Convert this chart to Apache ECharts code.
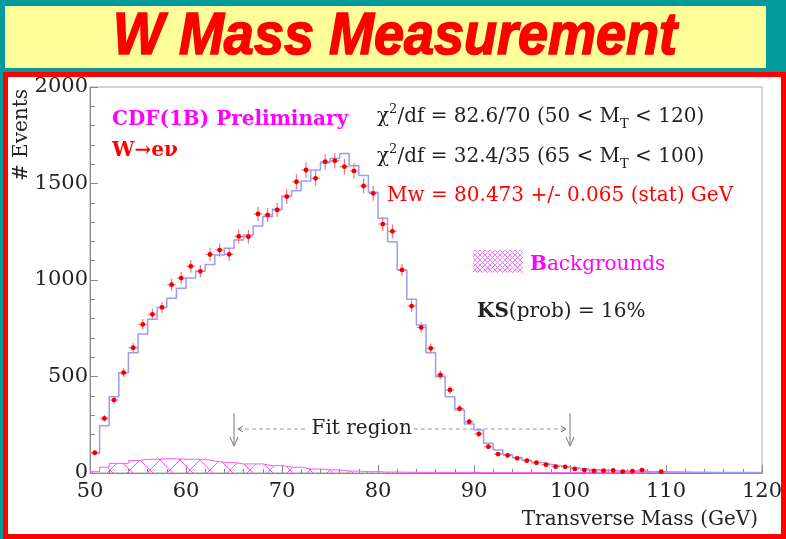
<!DOCTYPE html>
<html>
<head>
    <meta charset="utf-8">
    <title>W Mass Measurement</title>
    <script src="https://cdn.jsdelivr.net/npm/echarts@6/dist/echarts.min.js"></script>
</head>
<body style="margin:0">
    <div id="main" style="width:786px;height:539px;"></div>
    <script type="text/javascript">
        // binning of the transverse mass histogram (GeV)
        var massMin = 50;
        var massMax = 120;
        var binWidth = 1;

        // observed events per bin (50-51, 51-52, ... 119-120)
        var dataCounts = [
            105, 283, 378, 520, 649, 770, 822, 858, 976, 1010,
            1071, 1045, 1132, 1155, 1133, 1226, 1224, 1342, 1337, 1363,
            1432, 1509, 1570, 1527, 1613, 1618, 1587, 1565, 1487, 1449,
            1290, 1252, 1052, 865, 754, 646, 508, 430, 334, 266,
            202, 136, 98, 91, 76, 64, 53, 43, 33, 32,
            21, 15, 11, 12, 13, 7, 10, 15, 0, 7,
            0, 0, 0, 0, 0, 0, 0, 0, 0, 0
        ];
        // simulation (fit) histogram
        var fitModel = [
            102, 245, 395, 520, 623, 720, 796, 858, 906, 957,
            1010, 1045, 1080, 1130, 1164, 1207, 1233, 1280, 1328, 1366,
            1435, 1463, 1513, 1570, 1608, 1630, 1656, 1592, 1542, 1455,
            1320, 1198, 1052, 900, 767, 623, 499, 395, 326, 254,
            223, 154, 119, 96, 80, 66, 55, 45, 37, 30,
            25, 20, 17, 14, 12, 10, 9, 8, 7, 6,
            5, 5, 4, 4, 3, 3, 3, 3, 2, 2
        ];
        // background estimate
        var backgrounds = [
            7, 30, 50, 50, 64, 71, 71, 74, 74, 71,
            71, 71, 62, 55, 55, 47, 47, 47, 38, 38,
            30, 30, 21, 21, 16, 16, 10, 10, 7, 7,
            5, 5, 4, 4, 3, 3, 3, 3, 3, 3,
            2, 2, 2, 2, 2, 2, 2, 2, 2, 2,
            2, 2, 2, 2, 2, 2, 2, 2, 2, 2,
            2, 2, 2, 2, 2, 2, 2, 2, 2, 2
        ];
        var fitRange = [65, 100];
        var fitLabelMass = 78.3;

        var serif = '"DejaVu Serif", "Liberation Serif", serif';

        function makeHatch(size, color) {
            var c = document.createElement('canvas');
            c.width = size; c.height = size;
            var g = c.getContext('2d');
            g.strokeStyle = color;
            g.lineWidth = 1;
            g.beginPath();
            g.moveTo(0, 0); g.lineTo(size, size);
            g.moveTo(size, 0); g.lineTo(0, size);
            g.stroke();
            return c;
        }
        var bigHatch = makeHatch(20, '#ff55ff');
        var smallHatch = makeHatch(5, '#ff77ff');

        function stepPoints(arr) {
            var pts = [];
            for (var i = 0; i < arr.length; i++) {
                pts.push([massMin + i * binWidth, arr[i]]);
            }
            pts.push([massMin + arr.length * binWidth, arr[arr.length - 1]]);
            return pts;
        }
        var dataPoints = dataCounts.map(function (v, i) {
            return [massMin + (i + 0.5) * binWidth, v];
        });

        var myChart = echarts.init(document.getElementById('main'));

        var axisGray = '#888';
        var option = {
            animation: false,
            backgroundColor: '#029a9a',
            grid: {
                left: 90, right: 24, top: 87, bottom: 66,
                show: true, borderColor: '#aaa', borderWidth: 1
            },
            xAxis: {
                type: 'value', min: massMin, max: massMax, interval: 10,
                axisLine: {lineStyle: {color: axisGray}},
                axisTick: {inside: true, length: 8, lineStyle: {color: axisGray}},
                minorTick: {show: true, splitNumber: 5, length: 4, lineStyle: {color: axisGray}},
                splitLine: {show: false},
                axisLabel: {color: '#222', fontSize: 21, fontFamily: serif, margin: 8}
            },
            yAxis: {
                type: 'value', min: 0, max: 2000, interval: 500,
                axisLine: {show: true, lineStyle: {color: axisGray}},
                axisTick: {show: true, inside: true, length: 8, lineStyle: {color: axisGray}},
                minorTick: {show: true, splitNumber: 5, length: 5, lineStyle: {color: axisGray}},
                splitLine: {show: false},
                axisLabel: {color: '#222', fontSize: 21, fontFamily: serif, margin: 2,
                    formatter: function (v) { return String(v); }}
            },
            series: [
                {
                    name: 'Backgrounds',
                    type: 'line',
                    step: 'end',
                    showSymbol: false,
                    data: stepPoints(backgrounds),
                    lineStyle: {color: '#ff55ff', width: 1},
                    areaStyle: {color: {image: bigHatch, repeat: 'repeat'}, opacity: 1},
                    z: 2
                },
                {
                    name: 'Fit',
                    type: 'line',
                    step: 'end',
                    showSymbol: false,
                    data: stepPoints(fitModel),
                    lineStyle: {color: '#9a9aff', width: 1.5},
                    z: 3
                },
                {
                    name: 'Data',
                    type: 'custom',
                    data: dataPoints,
                    z: 4,
                    renderItem: function (params, api) {
                        var x = api.value(0), y = api.value(1);
                        if (!y) return null;
                        var err = Math.sqrt(y);
                        var c = api.coord([x, y]);
                        var l = api.coord([x - 0.45 * binWidth, y]);
                        var r = api.coord([x + 0.45 * binWidth, y]);
                        var t = api.coord([x, y + err]);
                        var b = api.coord([x, y - err]);
                        var barStyle = {stroke: '#ff7070', lineWidth: 1.2};
                        return {
                            type: 'group',
                            children: [
                                {type: 'line', shape: {x1: l[0], y1: l[1], x2: r[0], y2: r[1]}, style: barStyle},
                                {type: 'line', shape: {x1: t[0], y1: t[1], x2: b[0], y2: b[1]}, style: barStyle},
                                {type: 'circle', shape: {cx: c[0], cy: c[1], r: 2.4}, style: {fill: '#ee0000'}}
                            ]
                        };
                    }
                }
            ]
        };
        myChart.setOption(option);

        // annotations placed through the chart's own coordinate system
        function px(x, y) { return myChart.convertToPixel({gridIndex: 0}, [x, y]); }
        var meas = document.createElement('canvas').getContext('2d');
        meas.font = '20px ' + serif;
        var fitLabelW = meas.measureText('Fit region').width;

        var loTop = px(fitRange[0], 310), loBot = px(fitRange[0], 140);
        var hiTop = px(fitRange[1], 310), hiBot = px(fitRange[1], 140);
        var dashY = px(fitRange[0], 228)[1];
        var labelC = px(fitLabelMass, 228)[0];
        var dashStyle = {stroke: '#999', lineWidth: 1, lineDash: [4, 3]};
        var arrowStyle = {stroke: '#777', lineWidth: 1};

        function arrowDown(top, bot) {
            return [
                {type: 'line', shape: {x1: top[0], y1: top[1], x2: bot[0], y2: bot[1]}, style: arrowStyle},
                {type: 'polyline', shape: {points: [[bot[0] - 4, bot[1] - 9], [bot[0], bot[1]], [bot[0] + 4, bot[1] - 9]]}, style: arrowStyle}
            ];
        }

        var textBase = {fontFamily: serif, fontSize: 20, verticalAlign: 'middle'};
        function txt(x, y, text, extra) {
            var st = Object.assign({x: 0, y: 0, text: text}, textBase, extra || {});
            return {type: 'text', x: x, y: y, z: 100, style: st};
        }
        var supSub = {
            sup: {fontSize: 13, lineHeight: 13, verticalAlign: 'top', fontFamily: serif},
            sub: {fontSize: 13, lineHeight: 13, verticalAlign: 'bottom', fontFamily: serif}
        };

        var elements = [
            {type: 'rect', z: -10, shape: {x: 5, y: 6, width: 761, height: 62}, style: {fill: '#ffff99'}},
            {type: 'rect', z: -10, shape: {x: 5.5, y: 74.5, width: 778, height: 462},
                style: {fill: '#ffffff', stroke: '#ff0000', lineWidth: 5}},
            {type: 'text', x: 395, y: 38, z: 100, scaleY: 1.08,
                style: {x: 0, y: 0, text: 'W Mass Measurement', fill: '#ff0000',
                    font: 'italic bold 54px "Liberation Sans", sans-serif',
                    stroke: '#ff0000', lineWidth: 1.5,
                    textAlign: 'center', verticalAlign: 'middle',
                    textShadowColor: '#000', textShadowOffsetX: 2, textShadowOffsetY: 2, textShadowBlur: 0}},
            txt(112, 120, 'CDF(1B) Preliminary', {fill: '#ff00ff', fontWeight: 'bold'}),
            txt(112, 151, 'W\u2192e\u03bd', {fill: '#ff0000', fontWeight: 'bold'}),
            txt(377, 117, '\u03c7{sup|2}/df = 82.6/70 (50 < M{sub|T} < 120)', {fill: '#222', lineHeight: 28, rich: supSub}),
            txt(377, 157, '\u03c7{sup|2}/df = 32.4/35 (65 < M{sub|T} < 100)', {fill: '#222', lineHeight: 28, rich: supSub}),
            txt(387, 196, 'Mw = 80.473 +/- 0.065 (stat) GeV', {fill: '#ff0000'}),
            {type: 'rect', z: 100, shape: {x: 473, y: 250, width: 50, height: 23},
                style: {fill: {image: smallHatch, repeat: 'repeat'}}},
            txt(530, 265, '{b|B}ackgrounds', {fill: '#ff00ff',
                rich: {b: {fontWeight: 'bold', fontFamily: serif, fontSize: 20, fill: '#ff00ff'}}}),
            txt(477, 312, '{b|KS}(prob) = 16%', {fill: '#222',
                rich: {b: {fontWeight: 'bold', fontFamily: serif, fontSize: 20, fill: '#222'}}}),
            {type: 'text', x: 22, y: 135, z: 100, rotation: Math.PI / 2,
                style: Object.assign({x: 0, y: 0, text: '# Events', fill: '#222', textAlign: 'center'}, textBase)},
            txt(758, 520, 'Transverse Mass (GeV)', {fill: '#222', textAlign: 'right'}),
            txt(labelC, dashY, 'Fit region', {fill: '#222', textAlign: 'center'}),
            {type: 'line', z: 100, shape: {x1: loTop[0] + 4, y1: dashY, x2: labelC - fitLabelW / 2 - 4, y2: dashY}, style: dashStyle},
            {type: 'line', z: 100, shape: {x1: labelC + fitLabelW / 2 + 2, y1: dashY, x2: hiTop[0] - 4, y2: dashY}, style: dashStyle},
            {type: 'polyline', z: 100, shape: {points: [[loTop[0] + 9, dashY - 3], [loTop[0] + 4, dashY], [loTop[0] + 9, dashY + 3]]}, style: arrowStyle},
            {type: 'polyline', z: 100, shape: {points: [[hiTop[0] - 9, dashY - 3], [hiTop[0] - 4, dashY], [hiTop[0] - 9, dashY + 3]]}, style: arrowStyle}
        ].concat(arrowDown(loTop, loBot), arrowDown(hiTop, hiBot));

        elements.forEach(function (el) { if (el.z === undefined) el.z = 100; });
        myChart.setOption({graphic: {elements: elements}});
    </script>
</body>
</html>
